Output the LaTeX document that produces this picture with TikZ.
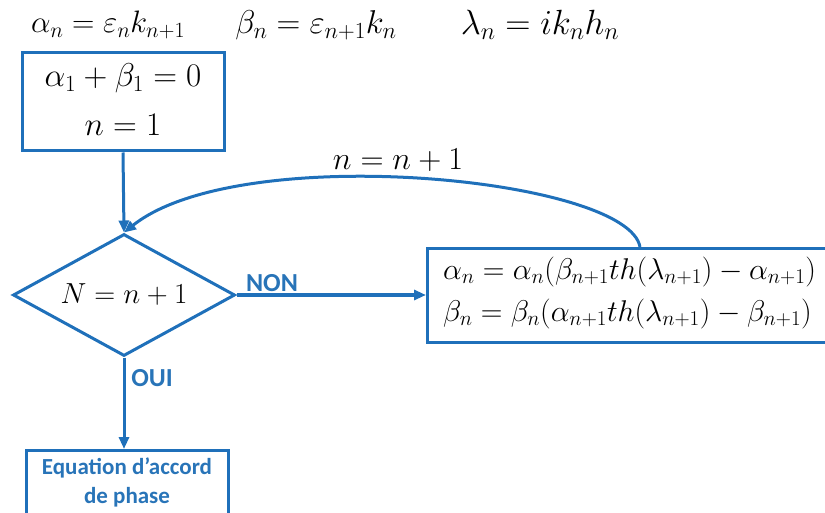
\RequirePackage{fix-cm}
\documentclass[tikz,border=0pt]{standalone}
\usepackage{fontspec}
\newfontfamily\labelfont{Carlito}
\usetikzlibrary{shapes.geometric,arrows.meta}
\definecolor{flowblue}{RGB}{31,112,186}
\definecolor{labelblue}{RGB}{40,116,184}
\tikzset{
  flowline/.style={draw=flowblue,line width=3pt},
  arrowline/.style={flowline,-{Triangle[length=12pt,width=10pt]}},
  boxnode/.style={draw=flowblue,line width=3pt,inner sep=0pt,align=center},
  mathtext/.style={font=\fontsize{32}{38}\selectfont,inner sep=0pt},
  lab/.style={font=\labelfont\bfseries\fontsize{26}{30}\selectfont,text=labelblue,inner sep=0pt},
  boxlab/.style={font=\labelfont\bfseries\fontsize{23}{27}\selectfont,text=labelblue,inner sep=0pt},
}
\begin{document}
\begin{tikzpicture}[x=1pt,y=-1pt]
\useasboundingbox (0,0) rectangle (825,513);
\clip (0,0) rectangle (825,513);
% top formulas
\node[mathtext,font=\fontsize{31}{36}\selectfont] (f1) at (108,25) {$\alpha_n=\varepsilon_n k_{n+1}$};
\node[mathtext,font=\fontsize{33}{38}\selectfont] (f2) at (316,25) {$\beta_n=\varepsilon_{n+1} k_n$};
\node[mathtext,font=\fontsize{35}{40}\selectfont] (f3) at (540,25) {$\lambda_n=i k_n h_n$};
% start box
\node[boxnode,minimum width=202pt,minimum height=98pt] (start) at (123,102) {};
\node[mathtext,font=\fontsize{33}{38}\selectfont] (s1) at (123,78) {$\alpha_1+\beta_1=0$};
\node[mathtext,font=\fontsize{33}{38}\selectfont] (s2) at (123,125) {$n=1$};
% decision
\node[draw=flowblue,line width=3pt,shape=diamond,minimum width=222pt,minimum height=122pt,inner sep=0pt] (dec) at (124,295) {};
\node[mathtext,font=\fontsize{29}{34}\selectfont] (dectext) at (dec.center) {$N=n+1$};
% update box
\node[boxnode,anchor=north west,minimum width=420pt,minimum height=94pt] (upd) at (426,247) {};
\node[mathtext,font=\fontsize{30}{36}\selectfont,anchor=west] (u1) at (443,272) {$\alpha_n=\alpha_n(\beta_{n+1}th(\lambda_{n+1})-\alpha_{n+1})$};
\node[mathtext,font=\fontsize{30}{36}\selectfont,anchor=west] (u2) at (443,314) {$\beta_n=\beta_n(\alpha_{n+1}th(\lambda_{n+1})-\beta_{n+1})$};
% end box
\node[boxnode,anchor=north,minimum width=202pt,minimum height=90pt] (end) at (127,449) {};
\node[boxlab,align=center] (endtext) at (127,482) {Equation d’accord\\[2pt]de phase};
% connectors
\draw[arrowline] (start.south) -- (dec.north);
\draw[arrowline] (dec.east) -- (upd.west |- dec.east);
\draw[arrowline] (dec.south) -- (end.north -| dec.south);
\coordinate (loopstart) at (640,247);
\draw[arrowline] (loopstart) .. controls (628,178) and (240,140) .. (dec.north);
% labels
\node[lab] (non) at (272,283) {NON};
\node[lab] (oui) at (152,378) {OUI};
\node[mathtext] (inc) at (398,160) {$n=n+1$};
\end{tikzpicture}
\end{document}
